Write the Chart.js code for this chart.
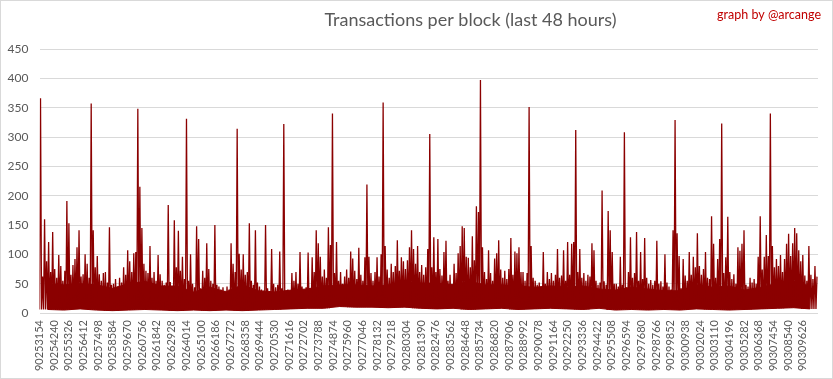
<!DOCTYPE html>
<html>
<head>
<meta charset="UTF-8">
<title>Transactions per block (last 48 hours)</title>
<style>
body { margin: 0; background: #fff; }
.chart-box {
	position: absolute;
	left: 0;
	top: 0;
	width: 833px;
	height: 379px;
	box-sizing: border-box;
	border: 1px solid #d9d9d9;
}
</style>
<script src="https://cdn.jsdelivr.net/npm/chart.js"></script>
</head>
<body>
<div class="chart-box"><canvas id="tx-chart"></canvas></div>
<script>
const chartTitle = 'Transactions per block (last 48 hours)';
const credit = 'graph by @arcange';

// 48h window, one column = 150 blocks, one group = 8 columns
const firstBlock = 90253154;
const blocksPerColumn = 150;
const columnsPerGroup = 8;

const tickBlocks = [90253154, 90254240, 90255326, 90256412, 90257498, 90258584, 90259670,
	90260756, 90261842, 90262928, 90264014, 90265100, 90266186, 90267272, 90268358, 90269444,
	90270530, 90271616, 90272702, 90273788, 90274874, 90275960, 90277046, 90278132, 90279218,
	90280304, 90281390, 90282476, 90283562, 90284648, 90285734, 90286820, 90287906, 90288992,
	90290078, 90291164, 90292250, 90293336, 90294422, 90295508, 90296594, 90297680, 90298766,
	90299852, 90300938, 90302024, 90303110, 90304196, 90305282, 90306368, 90307454, 90308540,
	90309626];

// max transactions in each column
const peaks = [
	366, 62, 160, 88, 121, 70, 138, 75, 60, 99, 80, 55,
	72, 191, 153, 65, 82, 92, 112, 141, 62, 66, 100, 84,
	60, 357, 141, 78, 97, 66, 55, 68, 70, 52, 146, 48,
	50, 58, 45, 60, 52, 78, 65, 107, 88, 70, 102, 104,
	348, 215, 145, 84, 72, 68, 114, 60, 70, 55, 99, 66,
	55, 48, 52, 184, 53, 46, 158, 78, 140, 72, 96, 58,
	331, 55, 100, 50, 44, 148, 126, 42, 72, 60, 119, 75,
	55, 50, 150, 48, 45, 40, 44, 38, 45, 40, 119, 84,
	70, 314, 101, 74, 100, 65, 70, 153, 55, 48, 141, 52,
	45, 40, 38, 150, 42, 36, 109, 50, 44, 48, 105, 42,
	322, 38, 40, 35, 68, 55, 70, 50, 104, 45, 40, 44,
	103, 42, 95, 70, 141, 119, 96, 62, 74, 60, 146, 116,
	340, 68, 121, 55, 70, 50, 62, 74, 60, 105, 93, 72,
	58, 111, 65, 55, 95, 219, 96, 68, 55, 70, 95, 62,
	100, 359, 114, 74, 60, 84, 70, 80, 124, 72, 95, 88,
	75, 90, 112, 141, 109, 84, 114, 70, 82, 65, 78, 109,
	305, 78, 129, 70, 126, 75, 64, 104, 123, 55, 65, 50,
	84, 68, 102, 114, 148, 145, 96, 94, 78, 131, 90, 182,
	172, 397, 112, 70, 58, 107, 68, 55, 93, 102, 124, 74,
	60, 72, 58, 75, 128, 65, 105, 102, 112, 70, 70, 55,
	68, 351, 114, 60, 55, 48, 52, 45, 104, 50, 70, 58,
	68, 55, 65, 109, 60, 64, 107, 55, 121, 65, 118, 121,
	312, 70, 109, 60, 68, 55, 65, 62, 119, 107, 55, 48,
	52, 209, 54, 48, 174, 141, 104, 50, 50, 45, 96, 48,
	308, 44, 70, 129, 60, 68, 138, 55, 104, 58, 128, 60,
	50, 56, 48, 55, 123, 50, 54, 45, 100, 52, 45, 40,
	141, 329, 136, 97, 42, 92, 64, 55, 104, 65, 96, 78,
	136, 80, 65, 75, 104, 60, 58, 165, 118, 60, 92, 126,
	323, 68, 95, 164, 70, 58, 66, 50, 112, 106, 118, 141,
	48, 45, 60, 52, 58, 50, 96, 165, 74, 96, 133, 97,
	340, 114, 78, 92, 80, 99, 70, 92, 118, 135, 97, 119,
	145, 136, 107, 88, 99, 64, 55, 114, 65, 58, 80, 62
];

// level below which nearly every block in the group sits (the solid band)
const dense = [
	50, 48, 50, 48, 42, 50, 54, 46, 46, 36, 44, 36,
	48, 38, 36, 39, 41, 46, 48, 48, 46, 48, 54, 51,
	51, 48, 54, 48, 48, 46, 44, 46, 44, 46, 41, 39,
	44, 41, 38, 38, 48, 44, 46, 39, 44, 51, 54, 46
];

// min transactions, one value per group
const lows = [
	6, 5, 7, 5, 4, 5, 6, 5, 4, 5, 4, 5,
	4, 5, 6, 7, 8, 8, 11, 10, 10, 9, 10, 8,
	7, 8, 6, 7, 8, 6, 7, 8, 7, 6, 8, 5,
	6, 5, 6, 5, 7, 6, 5, 6, 7, 8, 9, 7
];

const groupBlocks = blocksPerColumn * columnsPerGroup;
const lastBlock = firstBlock + peaks.length * blocksPerColumn;

const spikePoints = [];
peaks.forEach((p, i) => {
	const b = firstBlock + i * blocksPerColumn;
	spikePoints.push({ x: b, y: lows[Math.floor(i / columnsPerGroup)] });
	spikePoints.push({ x: b + blocksPerColumn / 2, y: p });
});
const densePoints = dense.map((v, g) => ({ x: firstBlock + g * groupBlocks + groupBlocks / 2, y: v }));
const lowPoints = lows.map((v, g) => ({ x: firstBlock + g * groupBlocks + groupBlocks / 2, y: v }));

const titlePlugin = {
	id: 'titlePlugin',
	afterDraw(chart) {
		const c = chart.ctx;
		c.save();
		c.textBaseline = 'middle';
		c.textAlign = 'center';
		c.fillStyle = '#595959';
		c.font = '18px Lato';
		c.fillText(chartTitle, 469.5, 19);
		c.textAlign = 'right';
		c.fillStyle = '#c00000';
		c.font = '12.5px Lato';
		c.fillText(credit, 820, 14);
		c.restore();
	}
};

const red = '#8b0000';
const ctx = document.querySelector('#tx-chart');
new Chart(ctx, {
	type: 'line',
	data: {
		datasets: [{
			label: 'Transactions',
			data: spikePoints,
			borderColor: red,
			borderWidth: 1.3,
			pointRadius: 0,
			tension: 0,
			fill: false
		}, {
			label: 'dense',
			data: densePoints,
			borderColor: red,
			borderWidth: 1,
			backgroundColor: red,
			pointRadius: 0,
			tension: 0,
			fill: { target: 2 }
		}, {
			label: 'low',
			data: lowPoints,
			borderColor: red,
			borderWidth: 1,
			pointRadius: 0,
			tension: 0,
			fill: false
		}]
	},
	options: {
		animation: false,
		maintainAspectRatio: false,
		layout: { padding: { top: 48, right: 14, left: 0, bottom: 0 } },
		plugins: {
			legend: { display: false },
			tooltip: { enabled: false }
		},
		scales: {
			x: {
				type: 'linear',
				min: firstBlock,
				max: lastBlock,
				grid: { display: false, drawTicks: false },
				border: { display: false },
				afterBuildTicks: s => { s.ticks = tickBlocks.map(v => ({ value: v })); },
				afterFit: s => { s.height = 65; },
				ticks: {
					autoSkip: false,
					maxRotation: 90,
					minRotation: 90,
					padding: 7,
					color: '#595959',
					font: { family: 'Lato', size: 11 },
					callback: v => String(v)
				}
			},
			y: {
				min: 0,
				max: 450,
				grid: { color: '#d9d9d9', drawTicks: false },
				border: { display: false },
				afterFit: s => { s.width = 38.5; },
				ticks: {
					stepSize: 50,
					padding: 11,
					color: '#595959',
					font: { family: 'Lato', size: 12 }
				}
			}
		}
	},
	plugins: [titlePlugin]
});
</script>
</body>
</html>
